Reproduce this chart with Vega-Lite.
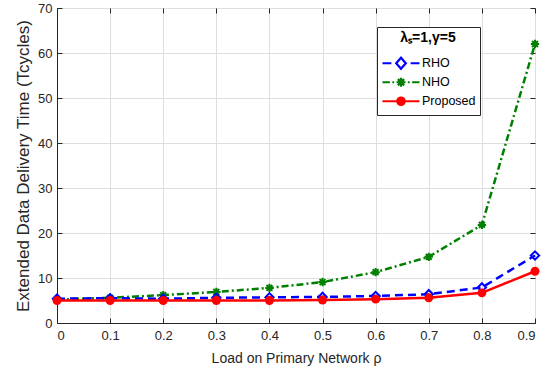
{
  "$schema": "https://vega.github.io/schema/vega-lite/v6.json",
  "width": 478,
  "height": 315,
  "autosize": {"type": "none"},
  "padding": {"left": 57, "top": 8, "right": 15, "bottom": 52},
  "background": "white",
  "config": {
    "font": "Liberation Sans",
    "view": {"stroke": "#262626", "strokeWidth": 1},
    "axis": {
      "domainColor": "#262626",
      "tickColor": "#262626",
      "labelColor": "#262626",
      "titleColor": "#262626",
      "labelFont": "Liberation Sans",
      "titleFont": "Liberation Sans",
      "labelFontSize": 13,
      "titleFontSize": 14,
      "titleFontWeight": "normal",
      "gridColor": "#dedede",
      "gridWidth": 1,
      "tickSize": -5
    },
    "legend": {
      "orient": "none",
      "legendX": 320,
      "legendY": 19,
      "strokeColor": "#262626",
      "fillColor": "white",
      "padding": 4,
      "labelFont": "Liberation Sans",
      "labelFontSize": 12.5,
      "labelColor": "#000000",
      "labelOffset": 1,
      "titleFont": "Liberation Sans",
      "titleFontSize": 14,
      "titleFontWeight": "bold",
      "titleColor": "#000000",
      "titleAnchor": "middle",
      "titlePadding": 9,
      "symbolSize": 1369,
      "symbolStrokeWidth": 2.2,
      "clipHeight": 18.5,
      "rowPadding": 0
    }
  },
  "data": {
    "values": [
      {"rho": 0.0, "series": "RHO", "t": 5.4},
      {"rho": 0.1, "series": "RHO", "t": 5.5},
      {"rho": 0.2, "series": "RHO", "t": 5.4},
      {"rho": 0.3, "series": "RHO", "t": 5.6},
      {"rho": 0.4, "series": "RHO", "t": 5.7},
      {"rho": 0.5, "series": "RHO", "t": 5.8},
      {"rho": 0.6, "series": "RHO", "t": 6.0},
      {"rho": 0.7, "series": "RHO", "t": 6.4},
      {"rho": 0.8, "series": "RHO", "t": 7.9},
      {"rho": 0.9, "series": "RHO", "t": 15.0},
      {"rho": 0.0, "series": "NHO", "t": 5.2},
      {"rho": 0.1, "series": "NHO", "t": 5.6},
      {"rho": 0.2, "series": "NHO", "t": 6.2},
      {"rho": 0.3, "series": "NHO", "t": 6.9},
      {"rho": 0.4, "series": "NHO", "t": 7.8},
      {"rho": 0.5, "series": "NHO", "t": 9.1},
      {"rho": 0.6, "series": "NHO", "t": 11.3},
      {"rho": 0.7, "series": "NHO", "t": 14.7},
      {"rho": 0.8, "series": "NHO", "t": 21.8},
      {"rho": 0.9, "series": "NHO", "t": 62.0},
      {"rho": 0.0, "series": "Proposed", "t": 5.0},
      {"rho": 0.1, "series": "Proposed", "t": 5.0},
      {"rho": 0.2, "series": "Proposed", "t": 5.0},
      {"rho": 0.3, "series": "Proposed", "t": 5.0},
      {"rho": 0.4, "series": "Proposed", "t": 5.0},
      {"rho": 0.5, "series": "Proposed", "t": 5.1},
      {"rho": 0.6, "series": "Proposed", "t": 5.3},
      {"rho": 0.7, "series": "Proposed", "t": 5.6},
      {"rho": 0.8, "series": "Proposed", "t": 6.7},
      {"rho": 0.9, "series": "Proposed", "t": 11.5}
    ]
  },
  "encoding": {
    "x": {"field": "rho", "type": "quantitative", "scale": {"domain": [0, 0.9], "nice": false, "zero": false}},
    "y": {"field": "t", "type": "quantitative", "scale": {"domain": [0, 70], "nice": false}}
  },
  "layer": [
    {
      "transform": [{"filter": "datum.series === 'NHO'"}],
      "mark": {"type": "line", "color": "#008000", "strokeWidth": 2.5, "strokeDash": [7, 3, 2, 3]},
      "encoding": {
        "x": {"field": "rho", "type": "quantitative", "axis": {"title": "Load on Primary Network ρ", "values": [0, 0.1, 0.2, 0.3, 0.4, 0.5, 0.6, 0.7, 0.8, 0.9], "format": ".1~f", "grid": true, "labelPadding": 11, "titlePadding": 9}},
        "y": {"field": "t", "type": "quantitative", "axis": {"title": "Extended Data Delivery Time (Tcycles)", "titleFontSize": 17, "values": [0, 10, 20, 30, 40, 50, 60, 70], "grid": true, "labelPadding": 10, "titlePadding": 5}}
      }
    },
    {
      "transform": [{"filter": "datum.series === 'NHO'"}],
      "mark": {"type": "point", "shape": "M-1,0H1M0,-1V1M-0.7,-0.7L0.7,0.7M-0.7,0.7L0.7,-0.7", "filled": false, "color": "#008000", "size": 70, "strokeWidth": 2, "opacity": 1},
      "encoding": {
        "x": {"field": "rho", "type": "quantitative", "axis": null},
        "y": {"field": "t", "type": "quantitative", "axis": null}
      }
    },
    {
      "transform": [{"filter": "datum.series === 'RHO'"}],
      "mark": {"type": "line", "color": "#0000ff", "strokeWidth": 2.5, "strokeDash": [8, 5]},
      "encoding": {
        "x": {"field": "rho", "type": "quantitative", "axis": null},
        "y": {"field": "t", "type": "quantitative", "axis": null}
      }
    },
    {
      "transform": [{"filter": "datum.series === 'RHO'"}],
      "mark": {"type": "point", "shape": "diamond", "filled": false, "color": "#0000ff", "size": 70, "strokeWidth": 2, "opacity": 1},
      "encoding": {
        "x": {"field": "rho", "type": "quantitative", "axis": null},
        "y": {"field": "t", "type": "quantitative", "axis": null}
      }
    },
    {
      "transform": [{"filter": "datum.series === 'Proposed'"}],
      "mark": {"type": "line", "color": "#ff0000", "strokeWidth": 2.5},
      "encoding": {
        "x": {"field": "rho", "type": "quantitative", "axis": null},
        "y": {"field": "t", "type": "quantitative", "axis": null}
      }
    },
    {
      "transform": [{"filter": "datum.series === 'Proposed'"}],
      "mark": {"type": "point", "shape": "circle", "filled": true, "color": "#ff0000", "size": 80, "opacity": 1},
      "encoding": {
        "x": {"field": "rho", "type": "quantitative", "axis": null},
        "y": {"field": "t", "type": "quantitative", "axis": null}
      }
    },
    {
      "transform": [{"filter": "datum.rho < 0"}],
      "mark": {"type": "point", "filled": false, "opacity": 1},
      "encoding": {
        "x": {"field": "rho", "type": "quantitative", "axis": {"orient": "top", "labels": false, "title": null, "grid": false, "domain": false, "values": [0, 0.1, 0.2, 0.3, 0.4, 0.5, 0.6, 0.7, 0.8, 0.9]}},
        "y": {"field": "t", "type": "quantitative", "axis": {"orient": "right", "labels": false, "title": null, "grid": false, "domain": false, "values": [0, 10, 20, 30, 40, 50, 60, 70]}},
        "color": {
          "field": "series", "type": "nominal",
          "scale": {"domain": ["RHO", "NHO", "Proposed"], "range": ["#0000ff", "#008000", "#ff0000"]},
          "legend": {"title": "λₛ=1,γ=5"}
        },
        "shape": {
          "field": "series", "type": "nominal",
          "scale": {"domain": ["RHO", "NHO", "Proposed"], "range": [
            "M-1,0H-0.52M-0.26,0L0,-0.3L0.26,0L0,0.3ZM0.52,0H1",
            "M-1,0H-0.6M-0.47,0H-0.37M-0.24,0H0.24M0,-0.24V0.24M-0.17,-0.17L0.17,0.17M-0.17,0.17L0.17,-0.17M0.37,0H0.47M0.6,0H1",
            "M-1,0H1M0.2,0A0.2,0.2 0 1,1 -0.2,0A0.2,0.2 0 1,1 0.2,0M0.1,0A0.1,0.1 0 1,1 -0.1,0A0.1,0.1 0 1,1 0.1,0M0.03,0A0.03,0.03 0 1,1 -0.03,0A0.03,0.03 0 1,1 0.03,0"
          ]},
          "legend": {"title": "λₛ=1,γ=5"}
        }
      }
    }
  ],
  "resolve": {"axis": {"x": "independent", "y": "independent"}}
}
